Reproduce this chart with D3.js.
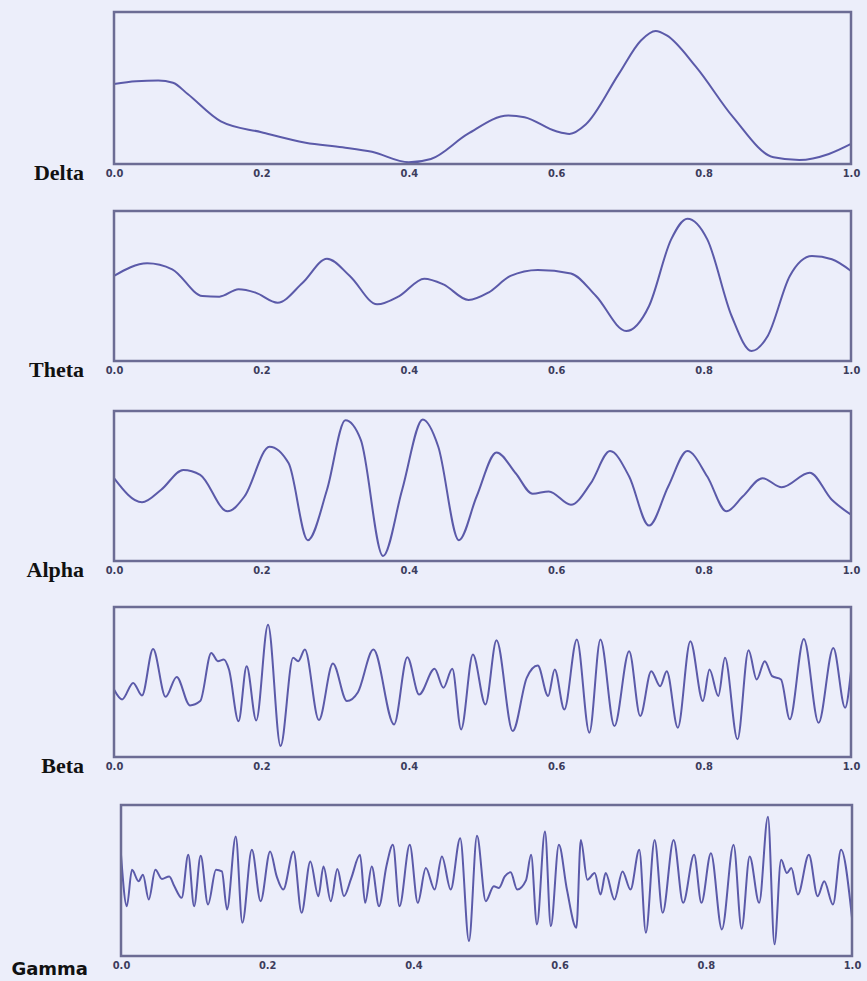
<!DOCTYPE html>
<html>
<head>
<meta charset="utf-8">
<script src="https://cdn.jsdelivr.net/npm/d3@7"></script>
<style>
  html, body { margin: 0; padding: 0; background: #eceefa; }
  svg { display: block; }
</style>
</head>
<body>
<svg id="chart" width="867" height="981"></svg>
<script>
// ---- data (x in 0..1, y normalised 0..1 of panel height) ----
const bandNames = ["Delta", "Theta", "Alpha", "Beta", "Gamma"];
const xTicks = [0, 0.2, 0.4, 0.6, 0.8, 1.0];

const delta = [
  [0,0.527],[0.03,0.545],[0.06,0.549],[0.08,0.535],[0.1,0.46],[0.145,0.28],[0.2,0.209],
  [0.26,0.14],[0.31,0.11],[0.35,0.08],[0.4,0.011],[0.43,0.033],[0.48,0.198],[0.535,0.319],
  [0.557,0.308],[0.6,0.215],[0.618,0.198],[0.64,0.26],[0.685,0.593],[0.715,0.813],[0.735,0.875],
  [0.75,0.846],[0.79,0.637],[0.84,0.308],[0.895,0.044],[0.93,0.026],[0.97,0.066],[1.0,0.132]
];
const theta = [
  [0,0.567],[0.045,0.651],[0.079,0.611],[0.12,0.433],[0.143,0.429],[0.169,0.478],[0.192,0.456],
  [0.222,0.389],[0.256,0.522],[0.289,0.682],[0.32,0.567],[0.357,0.378],[0.387,0.433],[0.421,0.549],
  [0.447,0.511],[0.481,0.407],[0.508,0.456],[0.538,0.567],[0.575,0.607],[0.62,0.584],[0.654,0.433],
  [0.695,0.2],[0.726,0.367],[0.756,0.811],[0.778,0.949],[0.805,0.811],[0.838,0.3],[0.865,0.067],
  [0.887,0.167],[0.917,0.567],[0.947,0.7],[0.974,0.678],[1.0,0.6]
];
const alpha = [
  [0,0.552],[0.038,0.391],[0.064,0.475],[0.094,0.607],[0.117,0.574],[0.154,0.331],[0.177,0.43],
  [0.211,0.762],[0.237,0.651],[0.263,0.139],[0.289,0.475],[0.314,0.938],[0.335,0.806],[0.365,0.033],
  [0.391,0.475],[0.419,0.943],[0.44,0.762],[0.468,0.139],[0.492,0.43],[0.519,0.724],[0.545,0.585],
  [0.568,0.448],[0.59,0.464],[0.62,0.375],[0.647,0.519],[0.673,0.733],[0.699,0.563],[0.726,0.236],
  [0.752,0.497],[0.778,0.733],[0.805,0.563],[0.831,0.331],[0.853,0.43],[0.88,0.552],[0.906,0.492],
  [0.944,0.589],[0.974,0.408],[1.0,0.309]
];
const beta = [
  [0,0.45],[0.011,0.384],[0.026,0.494],[0.038,0.41],[0.053,0.72],[0.07,0.401],[0.085,0.534],
  [0.103,0.344],[0.117,0.373],[0.132,0.694],[0.141,0.639],[0.149,0.65],[0.156,0.583],[0.169,0.239],
  [0.18,0.605],[0.193,0.244],[0.209,0.882],[0.226,0.073],[0.243,0.661],[0.25,0.639],[0.259,0.716],
  [0.278,0.246],[0.297,0.623],[0.316,0.373],[0.331,0.432],[0.352,0.716],[0.38,0.217],[0.398,0.665],
  [0.414,0.417],[0.435,0.588],[0.447,0.461],[0.459,0.588],[0.471,0.184],[0.487,0.683],[0.504,0.35],
  [0.519,0.778],[0.541,0.173],[0.56,0.528],[0.575,0.61],[0.589,0.406],[0.598,0.583],[0.611,0.317],
  [0.628,0.783],[0.645,0.162],[0.66,0.783],[0.679,0.206],[0.699,0.705],[0.714,0.273],[0.729,0.572],
  [0.741,0.472],[0.75,0.572],[0.765,0.195],[0.782,0.772],[0.799,0.373],[0.808,0.583],[0.82,0.406],
  [0.829,0.661],[0.846,0.118],[0.861,0.712],[0.872,0.517],[0.883,0.639],[0.893,0.539],[0.905,0.517],
  [0.917,0.251],[0.936,0.787],[0.956,0.228],[0.976,0.727],[0.992,0.328],[1.0,0.572]
];
const gamma = [
  [0,0.67],[0.008,0.33],[0.015,0.571],[0.024,0.495],[0.03,0.538],[0.038,0.374],[0.047,0.571],
  [0.056,0.51],[0.066,0.527],[0.073,0.462],[0.083,0.385],[0.092,0.67],[0.1,0.33],[0.109,0.664],
  [0.119,0.341],[0.13,0.571],[0.138,0.56],[0.145,0.308],[0.157,0.791],[0.166,0.22],[0.179,0.703],
  [0.191,0.363],[0.204,0.692],[0.213,0.527],[0.222,0.44],[0.236,0.692],[0.247,0.286],[0.259,0.626],
  [0.27,0.396],[0.277,0.593],[0.287,0.363],[0.296,0.576],[0.305,0.396],[0.315,0.516],[0.327,0.67],
  [0.334,0.352],[0.343,0.593],[0.353,0.33],[0.363,0.593],[0.372,0.736],[0.381,0.33],[0.395,0.736],
  [0.406,0.352],[0.417,0.582],[0.429,0.44],[0.439,0.659],[0.451,0.44],[0.464,0.78],[0.476,0.099],
  [0.487,0.796],[0.499,0.363],[0.51,0.462],[0.517,0.451],[0.525,0.527],[0.533,0.554],[0.542,0.44],
  [0.554,0.501],[0.561,0.67],[0.569,0.209],[0.58,0.824],[0.588,0.198],[0.599,0.736],[0.61,0.44],
  [0.623,0.187],[0.629,0.769],[0.638,0.505],[0.648,0.549],[0.656,0.407],[0.663,0.549],[0.675,0.374],
  [0.686,0.56],[0.697,0.44],[0.709,0.703],[0.718,0.154],[0.73,0.769],[0.741,0.286],[0.756,0.769],
  [0.769,0.352],[0.784,0.67],[0.794,0.352],[0.807,0.681],[0.822,0.176],[0.838,0.736],[0.849,0.18],
  [0.86,0.659],[0.873,0.352],[0.885,0.923],[0.894,0.077],[0.903,0.637],[0.911,0.549],[0.917,0.582],
  [0.926,0.407],[0.941,0.67],[0.953,0.396],[0.962,0.495],[0.974,0.341],[0.985,0.703],[1.0,0.253]
];
const bandSeries = [delta, theta, alpha, beta, gamma];

// ---- layout ----
const panels = [
  {x0:114, x1:851, y0:12,  y1:164, labelX:84, labelY:180, font:"'Liberation Serif','Times New Roman',serif", size:22},
  {x0:114, x1:851, y0:211, y1:361, labelX:84, labelY:377, font:"'Liberation Serif','Times New Roman',serif", size:22},
  {x0:114, x1:851, y0:411, y1:561, labelX:84, labelY:577, font:"'Liberation Serif','Times New Roman',serif", size:22},
  {x0:114, x1:851, y0:607, y1:757, labelX:84, labelY:773, font:"'Liberation Serif','Times New Roman',serif", size:22},
  {x0:121, x1:852, y0:805, y1:956, labelX:88, labelY:975, font:"'DejaVu Sans',sans-serif", size:18}
];

const svg = d3.select("#chart");
const lineColor = "#5b5aa9";
const frameColor = "#6c6c94";

panels.forEach((p, i) => {
  const x = d3.scaleLinear().domain([0, 1]).range([p.x0, p.x1]);
  const y = d3.scaleLinear().domain([0, 1]).range([p.y1, p.y0]);
  const g = svg.append("g");

  const axis = d3.axisBottom(x).tickValues(xTicks).tickSize(0).tickPadding(5)
    .tickFormat(d3.format(".1f"));
  const ax = g.append("g").attr("transform", `translate(0,${p.y1})`).call(axis);
  ax.select(".domain").remove();
  ax.selectAll("text")
    .attr("font-family", "'Liberation Sans Narrow','DejaVu Sans Condensed','Liberation Sans',sans-serif")
    .attr("font-weight", "bold")
    .attr("font-size", 11)
    .attr("fill", "#3c3c5c");

  const line = d3.line()
    .x(d => x(d[0]))
    .y(d => y(d[1]))
    .curve(d3.curveMonotoneX);
  g.append("path")
    .datum(bandSeries[i])
    .attr("d", line)
    .attr("fill", "none")
    .attr("stroke", lineColor)
    .attr("stroke-width", 2)
    .attr("stroke-linejoin", "round");

  g.append("rect")
    .attr("x", p.x0).attr("y", p.y0)
    .attr("width", p.x1 - p.x0).attr("height", p.y1 - p.y0)
    .attr("fill", "none")
    .attr("stroke", frameColor)
    .attr("stroke-width", 2.5);

  g.append("text")
    .attr("x", p.labelX).attr("y", p.labelY)
    .attr("text-anchor", "end")
    .attr("font-family", p.font)
    .attr("font-weight", "bold")
    .attr("font-size", p.size)
    .attr("fill", "#111")
    .text(bandNames[i]);
});
</script>
</body>
</html>
